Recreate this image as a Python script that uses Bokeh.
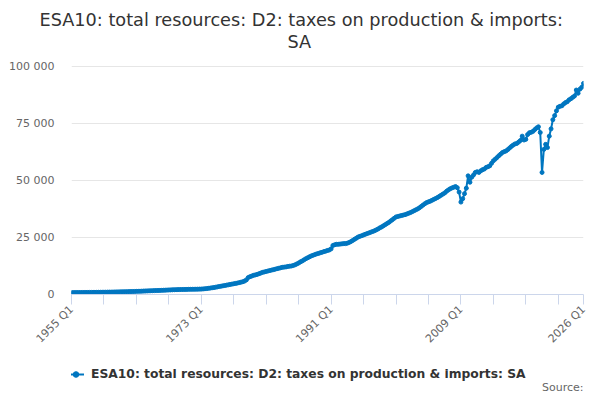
import math
from bokeh.plotting import figure
from bokeh.layouts import column
from bokeh.models import ColumnDataSource, Range1d, FixedTicker, Legend, LegendItem, Title, Label
from bokeh.embed import file_html
from bokeh.resources import INLINE

# quarterly values, £m, 1955 Q1 .. 2026 Q1
taxes = [
    820, 830, 840, 850,          # 1955
    860, 870, 880, 890,          # 1956
    900, 910, 920, 930,          # 1957
    940, 950, 960, 975,          # 1958
    985, 995, 1010, 1020,        # 1959
    1040, 1050, 1060, 1080,      # 1960
    1100, 1120, 1140, 1160,      # 1961
    1190, 1210, 1230, 1250,      # 1962
    1270, 1290, 1310, 1340,      # 1963
    1370, 1400, 1430, 1460,      # 1964
    1500, 1540, 1570, 1600,      # 1965
    1630, 1670, 1700, 1730,      # 1966
    1760, 1790, 1820, 1860,      # 1967
    1900, 1940, 1980, 2020,      # 1968
    2060, 2090, 2110, 2140,      # 1969
    2160, 2180, 2200, 2220,      # 1970
    2240, 2260, 2270, 2290,      # 1971
    2300, 2320, 2340, 2360,      # 1972
    2380, 2450, 2520, 2600,      # 1973
    2700, 2820, 2950, 3050,      # 1974
    3200, 3350, 3500, 3650,      # 1975
    3800, 3950, 4100, 4250,      # 1976
    4400, 4550, 4700, 4850,      # 1977
    5000, 5200, 5400, 5600,      # 1978
    5900, 6400, 7400, 7800,      # 1979
    8100, 8400, 8600, 8800,      # 1980
    9100, 9400, 9700, 9900,      # 1981
    10100, 10300, 10500, 10700,  # 1982
    10900, 11100, 11300, 11500,  # 1983
    11700, 11900, 12000, 12100,  # 1984
    12300, 12400, 12500, 12700,  # 1985
    13000, 13400, 13800, 14300,  # 1986
    14700, 15200, 15700, 16100,  # 1987
    16500, 16900, 17200, 17500,  # 1988
    17800, 18000, 18300, 18500,  # 1989
    18800, 19000, 19300, 19500,  # 1990
    20000, 21500, 21800, 22000,  # 1991
    22000, 22100, 22200, 22300,  # 1992
    22300, 22500, 22800, 23200,  # 1993
    23700, 24200, 24700, 25200,  # 1994
    25500, 25800, 26100, 26400,  # 1995
    26700, 27000, 27300, 27600,  # 1996
    27900, 28300, 28700, 29200,  # 1997
    29600, 30100, 30600, 31100,  # 1998
    31600, 32200, 32800, 33400,  # 1999
    34000, 34200, 34400, 34600,  # 2000
    34800, 35000, 35300, 35600,  # 2001
    35900, 36300, 36700, 37100,  # 2002
    37500, 38000, 38600, 39200,  # 2003
    39800, 40300, 40600, 40900,  # 2004
    41300, 41700, 42100, 42500,  # 2005
    43000, 43500, 44000, 44500,  # 2006
    45200, 45800, 46300, 46700,  # 2007
    47000, 47300, 46800, 44900,  # 2008
    40500, 42000, 44200, 46600,  # 2009
    52000, 49200, 51400, 52400,  # 2010
    53500, 53800, 53500, 54200,  # 2011
    54700, 55000, 55700, 56000,  # 2012
    56400, 57500, 58600, 59300,  # 2013
    60000, 60800, 61500, 62200,  # 2014
    62600, 62900, 63500, 64200,  # 2015
    64900, 65500, 66000, 66200,  # 2016
    66800, 67500, 69400, 67700,  # 2017
    68000, 70100, 70900, 71100,  # 2018
    71500, 72300, 73000, 73500,  # 2019
    71000, 53500, 63600, 65800,  # 2020
    64400, 69400, 72600, 76600,  # 2021
    78400, 80500, 82100, 82500,  # 2022
    82700, 83500, 84100, 84500,  # 2023
    85300, 85800, 86400, 87000,  # 2024
    89600, 88200, 90000, 90800,  # 2025
    92500,                       # 2026
]

first_year = 1955
quarters = ["%d Q%d" % (first_year + k // 4, k % 4 + 1) for k in range(len(taxes))]
x_labelled = ["1955 Q1", "1973 Q1", "1991 Q1", "2009 Q1", "2026 Q1"]
y_ticks = [0, 25000, 50000, 75000, 100000]
y_tick_labels = ["0", "25 000", "50 000", "75 000", "100 000"]
series_name = "ESA10: total resources: D2: taxes on production & imports: SA"

src = ColumnDataSource(data=dict(i=list(range(len(taxes))), v=taxes, q=quarters))

FONT = "DejaVu Sans"
BLUE = "#0076c0"

# y range runs a little past the top tick so the titles sit clear of the plot
p = figure(width=600, height=353, title=None, toolbar_location=None,
           output_backend="svg",
           x_range=Range1d(0, len(taxes) - 1), y_range=Range1d(0, 106500),
           min_border_left=71, min_border_right=17, min_border_top=51,
           min_border_bottom=56)
p.outline_line_color = None

# two title lines, the later one added sits further out
p.add_layout(Title(text="SA", align="left", offset=216, standoff=0,
                   text_font=FONT, text_font_size="17.7px",
                   text_font_style="normal", text_color="#333333"), "above")
p.add_layout(Title(text="ESA10: total resources: D2: taxes on production & imports:",
                   align="left", offset=-32, standoff=0, text_font=FONT,
                   text_font_size="17.7px", text_font_style="normal",
                   text_color="#333333"), "above")

p.line("i", "v", source=src, line_width=2, color=BLUE)
p.scatter("i", "v", source=src, size=4, color=BLUE)

# x axis: a tick every 18 quarters, label every 72
xt = list(range(0, len(taxes) - 1, 18)) + [len(taxes) - 1]
p.xaxis.ticker = FixedTicker(ticks=xt)
overrides = {t: "" for t in xt}
for lab in x_labelled:
    overrides[quarters.index(lab)] = lab
p.xaxis.major_label_overrides = overrides
p.xaxis.major_label_orientation = math.pi / 4
p.xaxis.axis_line_color = "#ccd6eb"
p.xaxis.major_tick_line_color = "#ccd6eb"
p.xaxis.major_tick_out = 10
p.xaxis.major_tick_in = 0
p.xaxis.minor_tick_line_color = None
p.xaxis.major_label_standoff = 3
p.xaxis.major_label_text_font = FONT
p.xaxis.major_label_text_font_size = "11px"
p.xaxis.major_label_text_color = "#666666"
p.xgrid.visible = False

p.yaxis.ticker = FixedTicker(ticks=y_ticks)
p.yaxis.major_label_overrides = dict(zip(y_ticks, y_tick_labels))
p.yaxis.axis_line_color = None
p.yaxis.major_tick_line_color = None
p.yaxis.minor_tick_line_color = None
p.yaxis.major_label_standoff = 11
p.yaxis.major_label_text_font = FONT
p.yaxis.major_label_text_font_size = "11px"
p.yaxis.major_label_text_color = "#666666"
p.ygrid.grid_line_color = "#e6e6e6"

# footer strip with the legend and the source note
foot = figure(width=600, height=43, toolbar_location=None, output_backend="svg",
              x_range=Range1d(-20, -10), y_range=Range1d(-20, -10),
              x_axis_type=None, y_axis_type=None, min_border=0)
foot.outline_line_color = None
foot.grid.visible = False
k_line = foot.line("i", "v", source=src, line_width=2, color=BLUE)
k_dot = foot.scatter("i", "v", source=src, size=4, color=BLUE)

legend = Legend(items=[LegendItem(label=series_name, renderers=[k_line, k_dot])],
                location=(-4, 15), orientation="horizontal",
                label_text_font=FONT, label_text_font_size="12.3px",
                label_text_font_style="bold", label_text_color="#333333",
                glyph_width=17, glyph_height=14, label_height=14,
                label_standoff=7, border_line_color=None,
                background_fill_alpha=0, margin=0, padding=4)
foot.add_layout(legend, "center")

foot.add_layout(Label(x=512, y=9, x_units="screen", y_units="screen",
                      text="Source:", text_align="right", text_baseline="middle",
                      text_font=FONT, text_font_size="11px",
                      text_color="#666666"))

open("out.html", "w").write(file_html(column(p, foot), INLINE))
